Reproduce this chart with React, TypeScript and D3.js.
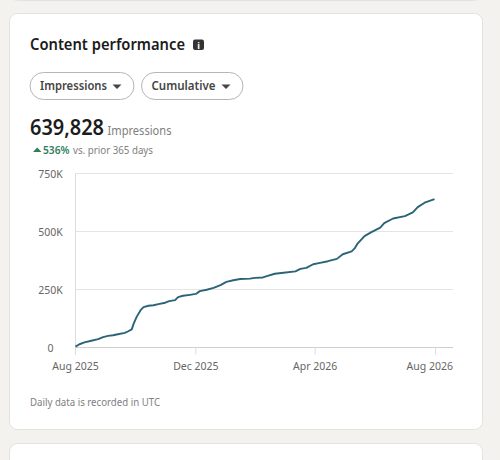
import * as d3 from "d3";

const startDate = new Date(Date.UTC(2025, 7, 1));
const endDate = new Date(Date.UTC(2026, 7, 1));

// days since Aug 1 2025 and cumulative impressions (in thousands)
const dayOffsets = [
  0, 4, 9, 16, 23, 28, 33, 38, 43, 50, 53, 57, 59, 62, 66, 69, 74, 79, 84, 91, 95, 101, 104, 109,
  116, 122, 126, 133, 140, 147, 153, 160, 167, 177, 182, 190, 194, 202, 211, 223, 228, 234, 241,
  248, 256, 265, 271, 280, 283, 286, 293, 300, 309, 313, 322, 334, 342, 347, 354, 364,
];
const impressions = [
  4, 14, 22, 29, 36, 45, 50, 53, 57, 63, 69, 78, 103, 132, 161, 174, 180, 182, 187, 193, 200, 204,
  217, 223, 227, 231, 243, 249, 257, 269, 283, 290, 295, 297, 300, 302, 308, 318, 322, 328, 339,
  343, 359, 365, 372, 382, 402, 414, 427, 448, 480, 497, 517, 536, 556, 566, 582, 605, 624, 640,
];

const yTicks = [0, 250, 500, 750];
const yTickLabels = ["0", "250K", "500K", "750K"];
const xTicks = [
  new Date(Date.UTC(2025, 7, 1)),
  new Date(Date.UTC(2025, 11, 1)),
  new Date(Date.UTC(2026, 3, 1)),
  new Date(Date.UTC(2026, 7, 1)),
];
const xTickLabels = ["Aug 2025", "Dec 2025", "Apr 2026", "Aug 2026"];

const width = 500;
const height = 460;
const plot = { left: 75.5, right: 435.5, top: 173.5, bottom: 347.5, gridEnd: 453 };
const font = "'Noto Sans', sans-serif";

function Pill({ x, w, label, textW }: { x: number; w: number; label: string; textW: number }) {
  const y = 72.5;
  const h = 27;
  const caretX = x + w - 17;
  return (
    <g>
      <rect x={x} y={y} width={w} height={h} rx={13.5} fill="#fff" stroke="#b5b5b2" />
      <text
        x={x + 10}
        y={90}
        fontSize={13}
        fontWeight={600}
        fill="#454545"
        fontFamily={font}
        textLength={textW}
        lengthAdjust="spacingAndGlyphs"
      >
        {label}
      </text>
      <path d={`M${caretX - 4.5},84.5 L${caretX + 4.5},84.5 L${caretX},89 Z`} fill="#454545" />
    </g>
  );
}

export default function App() {
  const x = d3.scaleUtc().domain([startDate, endDate]).range([plot.left, plot.right]);
  const y = d3.scaleLinear().domain([0, 750]).range([plot.bottom, plot.top]);

  const points = dayOffsets.map((day, i) => ({
    date: d3.utcDay.offset(startDate, day),
    value: impressions[i],
  }));
  const line = d3
    .line<(typeof points)[number]>()
    .x((p) => x(p.date))
    .y((p) => y(p.value));

  return (
    <svg
      width={width}
      height={height}
      viewBox={`0 0 ${width} ${height}`}
      style={{ position: "absolute", left: 0, top: 0, display: "block" }}
    >
      <rect width={width} height={height} fill="#f3f2ee" />
      <rect x={9.5} y={-40} width={473} height={40.5} rx={8} fill="#fff" stroke="#e3e2de" />
      <rect x={9.5} y={13.5} width={473} height={416} rx={8} fill="#fff" stroke="#e3e2de" />
      <rect x={9.5} y={443.5} width={473} height={60} rx={8} fill="#fff" stroke="#e3e2de" />

      <text x={30} y={50} fontSize={15.5} fontWeight={600} fill="#1c1c1c" fontFamily={font} textLength={155} lengthAdjust="spacingAndGlyphs">
        Content performance
      </text>
      <rect x={193} y={39.5} width={11} height={10.5} rx={2} fill="#333" />
      <text x={198.5} y={48.5} fontSize={9} fontWeight={700} fill="#fff" textAnchor="middle" fontFamily={font}>
        i
      </text>

      <Pill x={30} w={104} label="Impressions" textW={67} />
      <Pill x={141.5} w={101.5} label="Cumulative" textW={64} />

      <text x={30} y={135} fontSize={21} fontWeight={600} fill="#1c1c1c" fontFamily={font} textLength={74} lengthAdjust="spacingAndGlyphs">
        639,828
      </text>
      <text x={107.5} y={135} fontSize={12} fill="#808080" fontFamily={font} textLength={64} lengthAdjust="spacingAndGlyphs">
        Impressions
      </text>
      <path d="M33,152 L41.5,152 L37.2,147.5 Z" fill="#2f7d5b" />
      <text x={43} y={153.5} fontSize={10.5} fontWeight={600} fill="#2f7d5b" fontFamily={font} textLength={26.5} lengthAdjust="spacingAndGlyphs">
        536%
      </text>
      <text x={73} y={153.5} fontSize={10} fill="#808080" fontFamily={font} textLength={80} lengthAdjust="spacingAndGlyphs">
        vs. prior 365 days
      </text>

      {yTicks.map((t, i) => (
        <g key={t}>
          <line x1={plot.left} x2={plot.gridEnd} y1={y(t)} y2={y(t)} stroke={t === 0 ? "#cfcfcf" : "#e4e4e4"} />
          <text x={50.5} y={y(t) + 4.5} fontSize={10.5} fill="#666" textAnchor="middle" fontFamily={font}>
            {yTickLabels[i]}
          </text>
        </g>
      ))}
      <line x1={plot.left} x2={plot.left} y1={plot.top} y2={plot.bottom + 7} stroke="#dcdcdc" />
      {xTicks.map((t, i) => (
        <g key={xTickLabels[i]}>
          <line x1={x(t)} x2={x(t)} y1={plot.bottom} y2={plot.bottom + 7} stroke="#dcdcdc" />
          <text
            x={i === xTicks.length - 1 ? plot.gridEnd : x(t)}
            y={370}
            fontSize={10.5}
            fill="#666"
            textAnchor={i === xTicks.length - 1 ? "end" : "middle"}
            fontFamily={font}
          >
            {xTickLabels[i]}
          </text>
        </g>
      ))}

      <path d={line(points) ?? ""} fill="none" stroke="#2b6478" strokeWidth={1.9} strokeLinejoin="round" />

      <text x={30} y={406} fontSize={10} fill="#808080" fontFamily={font} textLength={130} lengthAdjust="spacingAndGlyphs">
        Daily data is recorded in UTC
      </text>
    </svg>
  );
}
